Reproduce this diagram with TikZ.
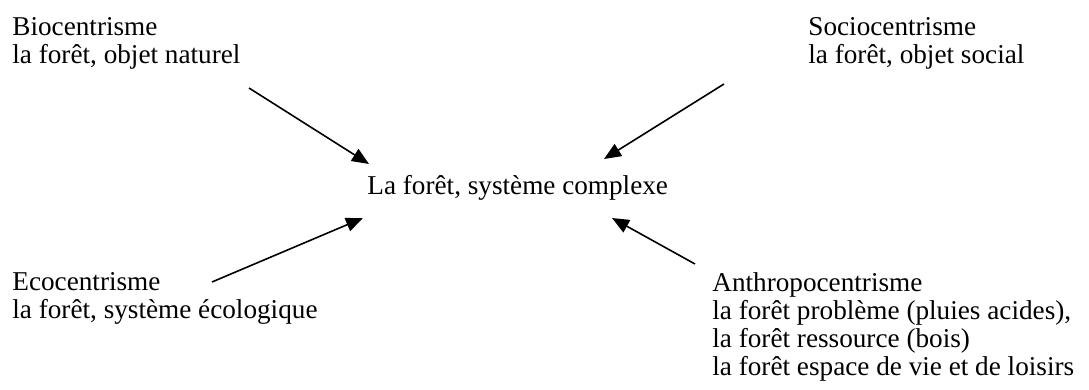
\documentclass[tikz,border=0pt]{standalone}
\usepackage{fontspec}
\setmainfont{Liberation Serif}
\usetikzlibrary{positioning,arrows.meta}

\begin{document}
\begin{tikzpicture}[
        x=0.5pt, y=-0.5pt,
        lbl/.style={anchor=north west, inner sep=0pt, align=left,
                    font=\fontsize{13.6}{14}\selectfont},
        link/.style={-{Triangle[length=8.5pt,width=7pt]}, line width=0.8pt},
    ]
        \useasboundingbox (0,0) rectangle (1089,390);

        \node[lbl] (bio) at (12,17) {Biocentrisme\\la forêt, objet naturel};
        \node[lbl] (socio) at (808,17) {Sociocentrisme\\la forêt, objet social};
        \node[lbl] (centre) at (367,175) {La forêt, système complexe};
        \node[lbl] (eco) at (12,272) {Ecocentrisme\\la forêt, système écologique};
        \node[lbl] (anthro) at (712,272) {Anthropocentrisme\\la forêt problème (pluies acides),\\la forêt ressource (bois)\\la forêt espace de vie et de loisirs};

        % arrow ends
        \coordinate (bio-out) at (249,88);
        \coordinate (socio-out) at (724,84);
        \coordinate (eco-out) at (212,282);
        \coordinate (anthro-out) at (695,264);
        \coordinate (centre-nw) at (369,164);
        \coordinate (centre-ne) at (604,159);
        \coordinate (centre-sw) at (363,218);
        \coordinate (centre-se) at (612,218);

        \draw[link] (bio-out) -- (centre-nw);
        \draw[link] (socio-out) -- (centre-ne);
        \draw[link] (eco-out) -- (centre-sw);
        \draw[link] (anthro-out) -- (centre-se);
    \end{tikzpicture}
\end{document}
